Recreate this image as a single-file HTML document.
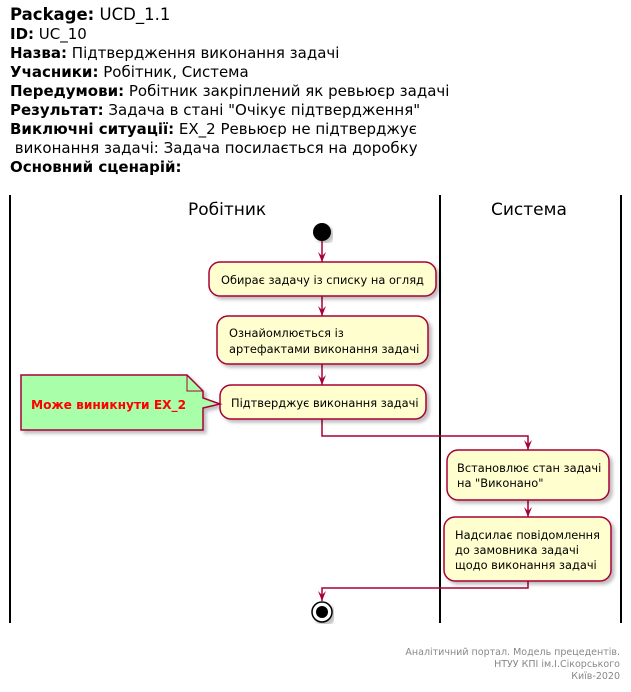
<!DOCTYPE html>
<html><head><meta charset="utf-8"><style>
body{margin:0;width:631px;height:692px;background:#fff;overflow:hidden;font-family:"DejaVu Sans","Liberation Sans",sans-serif;}
.hdr{position:absolute;left:10px;top:5px;font-size:15px;line-height:19px;color:#000;white-space:pre;}
.hdr b{font-weight:bold}
</style></head><body>
<div class="hdr"><b style="font-size:16.5px">Package:</b><span style="font-size:16.5px"> UCD_1.1</span>
<b>ID:</b> UC_10
<b>Назва:</b> Підтвердження виконання задачі
<b>Учасники:</b> Робітник, Система
<b>Передумови:</b> Робітник закріплений як ревьюєр задачі
<b>Результат:</b> Задача в стані "Очікує підтвердження"
<b>Виключні ситуації:</b> EX_2 Ревьюєр не підтверджує
 виконання задачі: Задача посилається на доробку
<b>Основний сценарій:</b></div>
<svg width="631" height="692" style="position:absolute;left:0;top:0" font-family="DejaVu Sans, Liberation Sans, sans-serif">
<defs><filter id="sh"><feDropShadow dx="3" dy="3" stdDeviation="1.5" flood-color="#000" flood-opacity="0.25"/></filter></defs>
<g stroke="#000" stroke-width="2"><line x1="10" y1="195" x2="10" y2="623"/><line x1="440" y1="195" x2="440" y2="623"/><line x1="621" y1="195" x2="621" y2="623"/></g>
<text x="188" y="215" font-size="17">Робітник</text>
<text x="491" y="215" font-size="17">Система</text>
<circle cx="322" cy="232" r="9" fill="#000" filter="url(#sh)"/>
<g stroke="#A80036" stroke-width="1.5" fill="none">
<line x1="322" y1="241" x2="322" y2="262"/>
<line x1="322" y1="296" x2="322" y2="316"/>
<line x1="322" y1="364" x2="322" y2="385"/>
<polyline points="322,419 322,436 528,436 528,450"/>
<line x1="528" y1="500" x2="528" y2="517"/>
<polyline points="528,581 528,588 322,588 322,601"/>
</g>
<g fill="#A80036">
<polygon points="318,252 322,262 326,252 322,256"/>
<polygon points="318,306 322,316 326,306 322,310"/>
<polygon points="318,375 322,385 326,375 322,379"/>
<polygon points="524,440 528,450 532,440 528,444"/>
<polygon points="524,507 528,517 532,507 528,511"/>
<polygon points="318,591 322,601 326,591 322,595"/>
</g>
<g fill="#FEFECE" stroke="#A80036" stroke-width="1.5" filter="url(#sh)">
<rect x="209" y="262" width="227" height="34" rx="11"/>
<rect x="217" y="316" width="211" height="48" rx="11"/>
<rect x="220" y="385" width="206" height="34" rx="11"/>
<rect x="447" y="450" width="162" height="50" rx="11"/>
<rect x="444" y="517" width="167" height="64" rx="11"/>
<path d="M21,375 H187 L203,391 V398 L220,404 L203,408 V430 H21 Z" fill="#A9FFA9"/>
</g>
<path d="M187,375 V391 H203" fill="none" stroke="#A80036" stroke-width="1"/>
<g font-size="11.4" fill="#000">
<text x="221" y="284">Обирає задачу із списку на огляд</text>
<text x="229" y="337">Ознайомлюється із</text>
<text x="229" y="353">артефактами виконання задачі</text>
<text x="231" y="407">Підтверджує виконання задачі</text>
<text x="457" y="472">Встановлює стан задачі</text>
<text x="457" y="487">на "Виконано"</text>
<text x="455" y="539">Надсилає повідомлення</text>
<text x="455" y="554">до замовника задачі</text>
<text x="455" y="569">щодо виконання задачі</text>
</g>
<text x="31" y="409" font-size="12.2" font-weight="bold" fill="#FF0000">Може виникнути EX_2</text>
<circle cx="322" cy="612" r="10" fill="#fff" stroke="#000" stroke-width="1.5" filter="url(#sh)"/>
<circle cx="322" cy="612" r="6" fill="#000"/>
<g font-size="9.5" fill="#888" text-anchor="end">
<text x="620" y="655">Аналітичний портал. Модель прецедентів.</text>
<text x="620" y="667">НТУУ КПІ ім.І.Сікорського</text>
<text x="620" y="679">Київ-2020</text>
</g>
</svg>
</body></html>
